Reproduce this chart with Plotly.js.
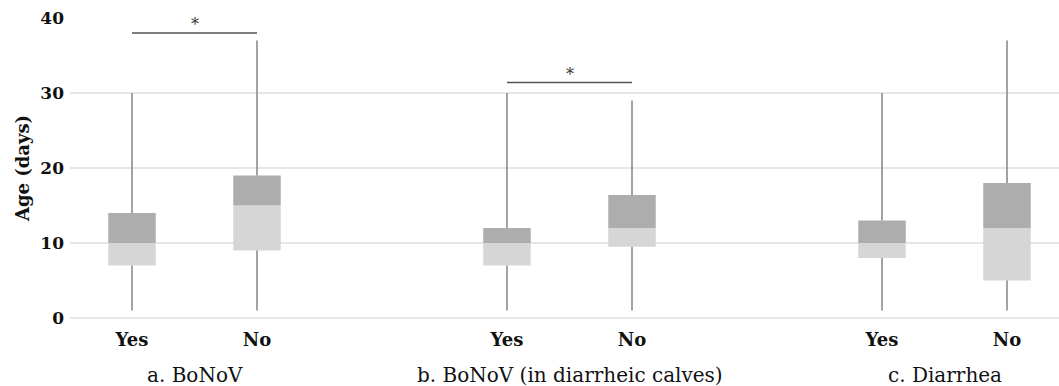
<!DOCTYPE html>
<html>
<head>
<meta charset="utf-8">
<script src="https://cdn.plot.ly/plotly-3.0.1.min.js"></script>
<style>html,body{margin:0;padding:0;background:#fff;}#chart{width:1059px;height:386px;}</style>
</head>
<body>
<div id="chart"></div>
<script>
// ---- data ----
const groups = ['a. BoNoV', 'b. BoNoV (in diarrheic calves)', 'c. Diarrhea'];
const subLabels = ['Yes', 'No'];
const mins    = [1, 1, 1, 1, 1, 1];
const q1      = [7, 9, 7, 9.5, 8, 5];
const medians = [10, 15, 10, 12, 10, 12];
const q3      = [14, 19, 12, 16.4, 13, 18];
const maxs    = [30, 37, 30, 29, 30, 37];
const sigLeft  = [0, 2];   // box index
const sigRight = [1, 3];
const sigY     = [38, 31.4];
const sigText  = ['*', '*'];

// ---- build ----
const xs = [], tickText = [];
groups.forEach((g, gi) => subLabels.forEach((s, si) => { xs.push(gi * 3 + si); tickText.push(s); }));
const idx = xs.map((_, i) => i);

const lower = {
  type: 'bar', x: xs, base: q1, y: idx.map(i => medians[i] - q1[i]),
  width: 0.38, marker: {color: '#d6d6d6', line: {width: 0}}, hoverinfo: 'skip'
};
const upper = {
  type: 'bar', x: xs, base: medians, y: idx.map(i => q3[i] - medians[i]),
  width: 0.38, marker: {color: '#adadad', line: {width: 0}}, hoverinfo: 'skip'
};
const wx = [], wy = [];
idx.forEach(i => {
  wx.push(xs[i], xs[i], null, xs[i], xs[i], null);
  wy.push(mins[i], q1[i], null, q3[i], maxs[i], null);
});
const whiskers = {
  type: 'scatter', mode: 'lines', x: wx, y: wy, connectgaps: false,
  line: {color: '#858585', width: 1.5}, hoverinfo: 'skip'
};

const shapes = sigLeft.map((l, k) => ({
  type: 'line', xref: 'x', yref: 'y',
  x0: xs[l], x1: xs[sigRight[k]], y0: sigY[k], y1: sigY[k],
  line: {color: '#555555', width: 1.6}
}));
const annotations = sigLeft.map((l, k) => ({
  xref: 'x', yref: 'y', x: (xs[l] + xs[sigRight[k]]) / 2, y: sigY[k],
  yanchor: 'bottom', yshift: -3, text: sigText[k], showarrow: false,
  font: {family: 'DejaVu Serif', size: 16, color: '#333'}
}));
groups.forEach((g, gi) => {
  annotations.push({
    xref: 'x', yref: 'paper', x: gi * 3 + 0.5, y: -0.19, yanchor: 'middle',
    text: g, showarrow: false,
    font: {family: 'DejaVu Serif', size: 20, color: '#111'}
  });
});

const layout = {
  width: 1059, height: 386,
  margin: {l: 70, r: 0, t: 18, b: 68},
  paper_bgcolor: '#ffffff', plot_bgcolor: '#ffffff',
  showlegend: false, barmode: 'overlay',
  font: {family: 'DejaVu Serif', color: '#111'},
  xaxis: {
    range: [-0.496, 7.416], tickvals: xs, ticktext: tickText,
    showgrid: false, zeroline: false, showline: false, ticks: '',
    tickfont: {family: 'DejaVu Serif', size: 18, weight: 'bold', color: '#111'},
    ticklabelstandoff: 9
  },
  yaxis: {
    range: [0, 40], tickvals: [0, 10, 20, 30, 40],
    showgrid: true, gridcolor: '#e6e6e6', gridwidth: 1.5,
    zeroline: true, zerolinecolor: '#e6e6e6', zerolinewidth: 1.5,
    showline: false, ticks: '',
    tickfont: {family: 'DejaVu Serif', size: 17, weight: 'bold', color: '#111'},
    ticklabelstandoff: 5,
    title: {text: 'Age (days)', font: {family: 'DejaVu Serif', size: 18, weight: 'bold', color: '#111'}, standoff: 6}
  },
  shapes: shapes,
  annotations: annotations
};

Plotly.newPlot('chart', [lower, upper, whiskers], layout, {displayModeBar: false, staticPlot: true});
</script>
</body>
</html>
